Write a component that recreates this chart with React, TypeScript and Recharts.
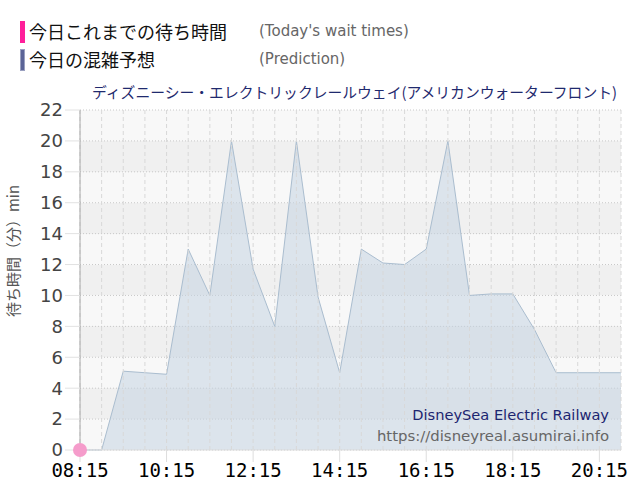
import React from 'react';
import {
  ComposedChart,
  Area,
  Line,
  XAxis,
  YAxis,
  CartesianGrid,
  ReferenceLine,
} from 'recharts';

// half-hourly points, 08:15 .. 20:45
const times = [
  '08:15', '08:45', '09:15', '09:45', '10:15', '10:45', '11:15', '11:45',
  '12:15', '12:45', '13:15', '13:45', '14:15', '14:45', '15:15', '15:45',
  '16:15', '16:45', '17:15', '17:45', '18:15', '18:45', '19:15', '19:45',
  '20:15', '20:45',
];

// 今日の混雑予想 (Prediction)
const prediction = [
  0, 0, 5.1, 5.0, 4.9, 13, 10, 20,
  11.7, 8, 20, 9.9, 5, 13, 12.1, 12,
  13, 20, 10, 10.1, 10.1, 7.8, 5, 5,
  5, 5,
];

// 今日これまでの待ち時間 (Today's wait times) - only the first reading so far
const todayWait: (number | null)[] = [0];

const xTickLabels = ['08:15', '10:15', '12:15', '14:15', '16:15', '18:15', '20:15'];
const yTicks = [0, 2, 4, 6, 8, 10, 12, 14, 16, 18, 20, 22];

const toMin = (t: string) => {
  const [h, m] = t.split(':').map(Number);
  return h * 60 + m;
};
const fromMin = (v: number) => {
  const h = Math.floor(v / 60);
  const m = v % 60;
  return `${String(h).padStart(2, '0')}:${String(m).padStart(2, '0')}`;
};

const data = times.map((t, i) => ({
  t: toMin(t),
  prediction: prediction[i],
  today: i < todayWait.length ? todayWait[i] : null,
}));

const JP = '"Noto Sans CJK JP", "DejaVu Sans", sans-serif';

export default function App() {
  return (
    <div
      style={{
        position: 'fixed',
        left: 0,
        top: 0,
        width: 640,
        height: 500,
        background: '#fff',
        fontFamily: '"DejaVu Sans", sans-serif',
      }}
    >
      {/* legend */}
      <div style={{ position: 'absolute', left: 20, top: 21, width: 5, height: 22, background: '#ff1f9a' }} />
      <div
        style={{
          position: 'absolute',
          left: 20,
          top: 49,
          width: 3,
          height: 20,
          background: '#5b6497',
          border: '1px solid #9aa0c0',
        }}
      />
      <div style={{ position: 'absolute', left: 29, top: 19, lineHeight: '24px', fontSize: 18, fontFamily: JP, color: '#111', whiteSpace: 'nowrap' }}>
        今日これまでの待ち時間
      </div>
      <div style={{ position: 'absolute', left: 29, top: 47, lineHeight: '24px', fontSize: 18, fontFamily: JP, color: '#111', whiteSpace: 'nowrap' }}>
        今日の混雑予想
      </div>
      <div style={{ position: 'absolute', left: 259, top: 21, lineHeight: '20px', fontSize: 15, color: '#666', whiteSpace: 'nowrap' }}>
        (Today's wait times)
      </div>
      <div style={{ position: 'absolute', left: 259, top: 49, lineHeight: '20px', fontSize: 15, color: '#666', whiteSpace: 'nowrap' }}>
        (Prediction)
      </div>

      {/* title */}
      <div
        style={{
          position: 'absolute',
          right: 23,
          top: 82,
          lineHeight: '20px',
          fontSize: 14.8,
          fontFamily: JP,
          color: '#1f2a6e',
          whiteSpace: 'nowrap',
        }}
      >
        ディズニーシー・エレクトリックレールウェイ(アメリカンウォーターフロント)
      </div>

      {/* y axis title */}
      <div
        style={{
          position: 'absolute',
          left: 13 - 100,
          top: 251 - 10,
          width: 200,
          height: 20,
          lineHeight: '20px',
          textAlign: 'center',
          fontSize: 15,
          fontFamily: JP,
          color: '#555',
          transform: 'rotate(-90deg)',
          whiteSpace: 'nowrap',
        }}
      >
        待ち時間（分）min
      </div>

      <ComposedChart
        width={640}
        height={500}
        data={data}
        margin={{ top: 110, right: 19, bottom: 10, left: 0 }}
      >
        <CartesianGrid
          vertical={false}
          stroke="#c8c8c8"
          strokeDasharray="1 2"
          horizontalFill={['#f8f8f8', '#f0f0f0']}
          fillOpacity={1}
        />
        {times.map((t) => (
          <ReferenceLine key={t} x={toMin(t)} stroke="#d8d8d8" strokeDasharray="4 3" />
        ))}
        <XAxis
          dataKey="t"
          type="number"
          domain={[toMin(times[0]), toMin(times[times.length - 1])]}
          ticks={xTickLabels.map(toMin)}
          tickFormatter={fromMin}
          height={40}
          axisLine={{ stroke: '#ddd' }}
          tickLine={{ stroke: '#ddd' }}
          tickSize={12}
          tickMargin={2}
          tick={{ fill: '#000', fontSize: 19, fontFamily: '"DejaVu Sans Mono", monospace' }}
          interval={0}
        />
        <YAxis
          type="number"
          domain={[0, 22]}
          ticks={yTicks}
          width={80}
          interval={0}
          axisLine={{ stroke: '#a8a8a8' }}
          tickLine={{ stroke: '#e2e2e2' }}
          tickSize={15}
          tickMargin={2}
          tick={{ fill: '#444', fontSize: 18 }}
        />
        <Area
          type="linear"
          dataKey="prediction"
          stroke="#aabdcf"
          strokeWidth={1}
          fill="#c4d4e2"
          fillOpacity={0.55}
          isAnimationActive={false}
          dot={false}
          activeDot={false}
        />
        <Line
          type="linear"
          dataKey="today"
          stroke="#ff1493"
          strokeWidth={2}
          dot={{ r: 7, fill: '#f59ccb', stroke: 'none' }}
          isAnimationActive={false}
          connectNulls={false}
        />
      </ComposedChart>

      {/* watermark */}
      <div
        style={{
          position: 'absolute',
          right: 31,
          top: 405,
          lineHeight: '20px',
          fontSize: 14.6,
          color: '#1c2570',
          textAlign: 'right',
          whiteSpace: 'nowrap',
        }}
      >
        DisneySea Electric Railway
      </div>
      <div
        style={{
          position: 'absolute',
          right: 31,
          top: 426,
          lineHeight: '20px',
          fontSize: 14.9,
          color: '#666',
          textAlign: 'right',
          whiteSpace: 'nowrap',
        }}
      >
        https://disneyreal.asumirai.info
      </div>
    </div>
  );
}
